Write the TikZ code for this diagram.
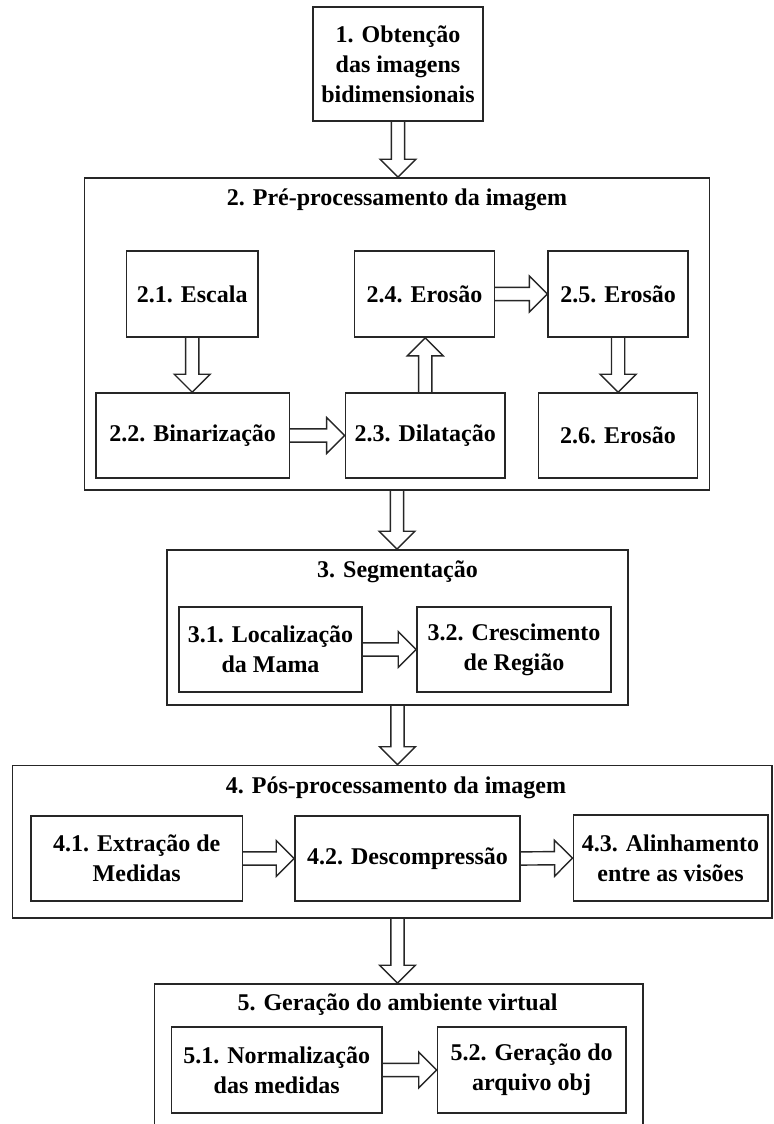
\documentclass[tikz,border=0pt]{standalone}
\usepackage{fontspec}
\setmainfont{Liberation Serif}
\usetikzlibrary{calc, positioning}

\begin{document}
\begin{tikzpicture}[
        x=0.5pt, y=-0.5pt,
        caixa/.style={draw=black!85, line width=0.8pt, inner sep=0pt, align=center,
          font=\fontsize{12}{15}\selectfont\bfseries},
        grupo/.style={draw=black!85, line width=0.8pt, inner sep=0pt},
        titulo/.style={inner sep=0pt, font=\fontsize{12}{15}\selectfont\bfseries},
        seta/.style={draw=black!85, line width=0.7pt, line join=miter,
          to path={
            ($(\tikztotarget)!9pt!(\tikztostart)$) coordinate (sb)
            ($(\tikztostart)!3.3pt!90:(\tikztotarget)$)
            -- ($(sb)!3.3pt!90:(\tikztotarget)$)
            -- ($(sb)!9pt!90:(\tikztotarget)$)
            -- (\tikztotarget)
            -- ($(sb)!9pt!-90:(\tikztotarget)$)
            -- ($(sb)!3.3pt!-90:(\tikztotarget)$)
            -- ($(\tikztostart)!3.3pt!-90:(\tikztotarget)$)
          }},
      ]
      \useasboundingbox (0,0) rectangle (773,1124);
      \clip (0,0) rectangle (773,1124);

      % Etapa 1
      \node[caixa, minimum width=85pt, minimum height=57pt] (e1) at (398,64)
        {1. Obtenção\\das imagens\\bidimensionais};

      % Etapa 2
      \node[grupo, minimum width=312.5pt, minimum height=156pt] (p2) at (397,334) {};
      \node[titulo] (t2) at (397,200) {2. Pré-processamento da imagem};
      \node[caixa, minimum width=65.6pt, minimum height=43pt] (b21) at (192.2,294) {2.1. Escala};
      \node[caixa, minimum width=96.8pt, minimum height=42.5pt] (b22) at (192.6,435.5) {2.2. Binarização};
      \node[caixa, minimum width=79.8pt, minimum height=42.5pt] (b23) at (425.2,435.5) {2.3. Dilatação};
      \node[caixa, minimum width=69.9pt, minimum height=43pt] (b24) at (424.5,294) {2.4. Erosão};
      \node[caixa, minimum width=69.9pt, minimum height=43pt] (b25) at (618.1,294) {2.5. Erosão};
      \node[caixa, minimum width=79.6pt, minimum height=42.5pt] (b26) at (618,435.5) {2.6. Erosão};

      % Etapa 3
      \node[grupo, minimum width=230.5pt, minimum height=77.5pt] (p3) at (397.5,627.5) {};
      \node[titulo] (t3) at (397.5,572) {3. Segmentação};
      \node[caixa, minimum width=91.5pt, minimum height=42.5pt] (b31) at (270.5,649.5)
        {3.1. Localização\\da Mama};
      \node[caixa, minimum width=97pt, minimum height=42.5pt] (b32) at (514,649.5)
        {3.2. Crescimento\\de Região};

      % Etapa 4
      \node[grupo, minimum width=379.7pt, minimum height=76.3pt] (p4) at (392.3,841.8) {};
      \node[titulo] (t4) at (396,788) {4. Pós-processamento da imagem};
      \node[caixa, minimum width=105.7pt, minimum height=42.5pt] (b41) at (136.7,858.5)
        {4.1. Extração de\\Medidas};
      \node[caixa, minimum width=112.5pt, minimum height=42.5pt] (b42) at (407.5,858.5)
        {4.2. Descompressão};
      \node[caixa, minimum width=97.2pt, minimum height=43pt] (b43) at (670.5,858)
        {4.3. Alinhamento\\entre as visões};

      % Etapa 5
      \node[grupo, minimum width=244.3pt, minimum height=78pt] (p5) at (398.6,1062) {};
      \node[titulo] (t5) at (397.5,1005) {5. Geração do ambiente virtual};
      \node[caixa, minimum width=105.3pt, minimum height=43pt] (b51) at (276.7,1070)
        {5.1. Normalização\\das medidas};
      \node[caixa, minimum width=94.1pt, minimum height=43pt] (b52) at (531.6,1070)
        {5.2. Geração do\\arquivo obj};

      % Setas entre etapas
      \draw[seta] (e1.south) to (e1.south |- p2.north);
      \draw[seta] (p2.south) to (p2.south |- p3.north);
      \draw[seta] (p3.south) to (p3.south |- p4.north);
      \draw[seta] (p3.south |- p4.south) to (p3.south |- p5.north);

      % Setas internas
      \draw[seta] (b21.south) to (b21.south |- b22.north);
      \draw[seta] (b22.east) to (b23.west);
      \draw[seta] (b23.north) to (b23.north |- b24.south);
      \draw[seta] (b24.east) to (b25.west);
      \draw[seta] (b25.south) to (b25.south |- b26.north);
      \draw[seta] (b31.east) to (b32.west);
      \draw[seta] (b41.east) to (b42.west);
      \draw[seta] (b42.east) to (b43.west);
      \draw[seta] (b51.east) to (b52.west);
    \end{tikzpicture}
\end{document}
